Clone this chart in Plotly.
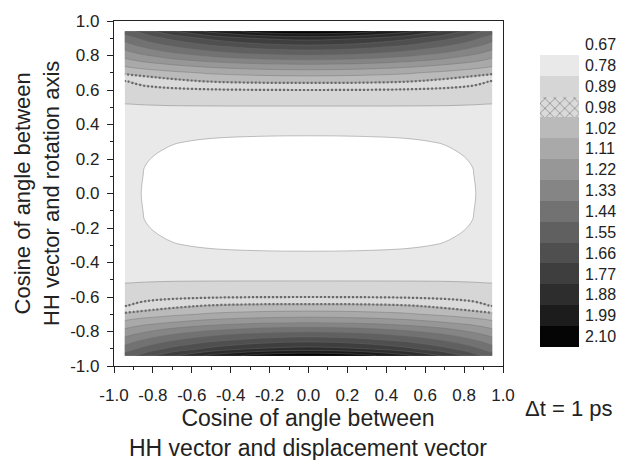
import numpy as np
import plotly.graph_objects as go

# ---------------- data ----------------
x_vals = [-0.945, -0.9, -0.85, -0.8, -0.7, -0.5, -0.25, 0.0, 0.25, 0.5, 0.7, 0.8, 0.85, 0.9, 0.945]
y_vals = [-0.94, -0.9, -0.85, -0.8, -0.75, -0.7, -0.65, -0.6, -0.5, -0.4, -0.3, -0.15, 0.0,
          0.15, 0.3, 0.4, 0.5, 0.6, 0.65, 0.7, 0.75, 0.8, 0.85, 0.9, 0.94]

z_rows = [
    [1.60, 1.65, 1.70, 1.76, 1.86, 2.02, 2.15, 2.20, 2.15, 2.02, 1.86, 1.76, 1.70, 1.65, 1.60],
    [1.486, 1.53, 1.575, 1.62, 1.69, 1.80, 1.89, 1.92, 1.89, 1.80, 1.69, 1.62, 1.575, 1.53, 1.486],
    [1.371, 1.41, 1.445, 1.48, 1.54, 1.63, 1.70, 1.73, 1.70, 1.63, 1.54, 1.48, 1.445, 1.41, 1.371],
    [1.257, 1.285, 1.315, 1.34, 1.39, 1.46, 1.52, 1.54, 1.52, 1.46, 1.39, 1.34, 1.315, 1.285, 1.257],
    [1.144, 1.165, 1.185, 1.20, 1.23, 1.28, 1.32, 1.335, 1.32, 1.28, 1.23, 1.20, 1.185, 1.165, 1.144],
    [1.038, 1.05, 1.06, 1.07, 1.09, 1.125, 1.15, 1.16, 1.15, 1.125, 1.09, 1.07, 1.06, 1.05, 1.038],
    [0.975, 0.984, 0.992, 0.998, 1.008, 1.025, 1.037, 1.04, 1.037, 1.025, 1.008, 0.998, 0.992, 0.984, 0.975],
    [0.94, 0.945, 0.95, 0.955, 0.962, 0.972, 0.978, 0.98, 0.978, 0.972, 0.962, 0.955, 0.95, 0.945, 0.94],
    [0.875, 0.876, 0.878, 0.879, 0.881, 0.882, 0.882, 0.882, 0.882, 0.882, 0.881, 0.879, 0.878, 0.876, 0.875],
    [0.85, 0.846, 0.84, 0.835, 0.83, 0.822, 0.819, 0.818, 0.819, 0.822, 0.83, 0.835, 0.84, 0.846, 0.85],
    [0.84, 0.825, 0.81, 0.80, 0.785, 0.77, 0.762, 0.76, 0.762, 0.77, 0.785, 0.80, 0.81, 0.825, 0.84],
    [0.825, 0.805, 0.782, 0.765, 0.745, 0.73, 0.72, 0.72, 0.72, 0.73, 0.745, 0.765, 0.782, 0.805, 0.825],
    [0.82, 0.80, 0.775, 0.755, 0.73, 0.71, 0.70, 0.70, 0.70, 0.71, 0.73, 0.755, 0.775, 0.80, 0.82],
    [0.825, 0.805, 0.782, 0.765, 0.745, 0.73, 0.72, 0.72, 0.72, 0.73, 0.745, 0.765, 0.782, 0.805, 0.825],
    [0.84, 0.825, 0.81, 0.80, 0.785, 0.77, 0.762, 0.76, 0.762, 0.77, 0.785, 0.80, 0.81, 0.825, 0.84],
    [0.85, 0.846, 0.84, 0.835, 0.83, 0.822, 0.819, 0.818, 0.819, 0.822, 0.83, 0.835, 0.84, 0.846, 0.85],
    [0.875, 0.876, 0.878, 0.879, 0.881, 0.882, 0.882, 0.882, 0.882, 0.882, 0.881, 0.879, 0.878, 0.876, 0.875],
    [0.94, 0.945, 0.95, 0.955, 0.962, 0.972, 0.978, 0.98, 0.978, 0.972, 0.962, 0.955, 0.95, 0.945, 0.94],
    [0.975, 0.984, 0.992, 0.998, 1.008, 1.025, 1.037, 1.04, 1.037, 1.025, 1.008, 0.998, 0.992, 0.984, 0.975],
    [1.038, 1.05, 1.06, 1.07, 1.09, 1.125, 1.15, 1.16, 1.15, 1.125, 1.09, 1.07, 1.06, 1.05, 1.038],
    [1.144, 1.165, 1.185, 1.20, 1.23, 1.28, 1.32, 1.335, 1.32, 1.28, 1.23, 1.20, 1.185, 1.165, 1.144],
    [1.257, 1.285, 1.315, 1.34, 1.39, 1.46, 1.52, 1.54, 1.52, 1.46, 1.39, 1.34, 1.315, 1.285, 1.257],
    [1.371, 1.41, 1.445, 1.48, 1.54, 1.63, 1.70, 1.73, 1.70, 1.63, 1.54, 1.48, 1.445, 1.41, 1.371],
    [1.486, 1.53, 1.575, 1.62, 1.69, 1.80, 1.89, 1.92, 1.89, 1.80, 1.69, 1.62, 1.575, 1.53, 1.486],
    [1.60, 1.65, 1.70, 1.76, 1.86, 2.02, 2.15, 2.20, 2.15, 2.02, 1.86, 1.76, 1.70, 1.65, 1.60],
]

# contour level boundaries (bands), colour-bar labels, band colours
level_bounds = [0.78, 0.89, 0.98, 1.02, 1.11, 1.22, 1.33, 1.44, 1.55, 1.66, 1.77, 1.88, 1.99, 2.10]
bar_labels = ["0.67", "0.78", "0.89", "0.98", "1.02", "1.11", "1.22", "1.33",
              "1.44", "1.55", "1.66", "1.77", "1.88", "1.99", "2.10"]
band_colors = ["#ffffff", "#e9e9e9", "#d6d6d6", "#dadada", "#bababa", "#a9a9a9", "#979797",
               "#858585", "#727272", "#606060", "#4f4f4f", "#3e3e3e", "#2d2d2d", "#1c1c1c", "#050505"]
hatched_band = 3  # index in band_colors drawn with cross hatch

axis_tickvals = [-1.0, -0.8, -0.6, -0.4, -0.2, 0.0, 0.2, 0.4, 0.6, 0.8, 1.0]
axis_ticktext = ["-1.0", "-0.8", "-0.6", "-0.4", "-0.2", "0.0", "0.2", "0.4", "0.6", "0.8", "1.0"]

x_title = "Cosine of angle between<br>HH vector and displacement vector"
y_title = "Cosine of angle between<br>HH vector and rotation axis"
note_text = "\u0394t = 1 ps"

# ---------------- build ----------------
FONT = "Liberation Sans, Arial, sans-serif"
bounds = np.array(level_bounds)
idx = np.arange(1, len(bounds) + 1, dtype=float)
ext_b = np.concatenate([[bounds[0] - 1.0], bounds, [bounds[-1] + 1.0]])
ext_i = np.concatenate([[1 - 1.0 / 0.11], idx, [idx[-1] + 1.0 / 0.11]])
z_idx = np.interp(np.array(z_rows), ext_b, ext_i)

n = len(band_colors)
cscale = [[k / (n - 1), c] for k, c in enumerate(band_colors)]

fig = go.Figure()
fig.add_trace(go.Contour(
    x=x_vals, y=y_vals, z=z_idx,
    contours=dict(start=1, end=len(bounds), size=1, coloring="fill", showlines=True),
    colorscale=cscale, showscale=False,
    line=dict(color="rgba(110,110,110,0.7)", width=0.6, smoothing=1),
    hoverinfo="skip",
))
# hatched band outline (cross-hatch impression)
fig.add_trace(go.Contour(
    x=x_vals, y=y_vals, z=z_idx,
    contours=dict(start=hatched_band, end=hatched_band + 1, size=1, coloring="none"),
    showscale=False,
    line=dict(color="#6a6a6a", width=2.2, dash="2px,2px", smoothing=1),
    hoverinfo="skip",
))

# colour bar as stacked bars (bottom = darkest)
for k in range(n - 1, 0, -1):
    is_hatch = (k == hatched_band)
    fig.add_trace(go.Bar(
        x=[0], y=[1], xaxis="x2", yaxis="y2", width=1,
        marker=dict(
            color=band_colors[k], line=dict(width=0),
            pattern=dict(shape="x" if is_hatch else "", fgcolor="#555555",
                         size=7, solidity=0.25, fillmode="overlay"),
        ),
        showlegend=False, hoverinfo="skip",
    ))

nb = n - 1
bar_tickvals = [nb + 0.5 - k for k in range(len(bar_labels))]

tick_font = dict(family=FONT, size=17, color="#222222")
axis_common = dict(
    range=[-1, 1], showgrid=False, zeroline=False,
    showline=True, linecolor="#222222", linewidth=1.2, mirror=True,
    ticks="outside", ticklen=6, tickwidth=1, tickcolor="#222222",
    tickvals=axis_tickvals, ticktext=axis_ticktext, tickfont=tick_font,
    minor=dict(ticks="outside", ticklen=3, tickcolor="#222222", tick0=-1, dtick=0.1),
    automargin=False,
)

W, H = 621, 460
L, R, T, B = 114, 0, 21, 94
pw = W - L - R
ph = H - T - B

def px_x(p):
    return (p - L) / pw

def px_y(p):
    return (H - B - p) / ph

fig.update_layout(
    width=W, height=H, autosize=False,
    margin=dict(l=L, r=R, t=T, b=B, pad=0),
    paper_bgcolor="white", plot_bgcolor="white",
    barmode="stack", bargap=0, showlegend=False,
    xaxis=dict(domain=[0, px_x(503)], ticklabelstandoff=7, **axis_common),
    yaxis=dict(domain=[0, 1], ticklabelstandoff=4, **axis_common),
    xaxis2=dict(domain=[px_x(540), px_x(579)], range=[-0.5, 0.5], visible=False,
                anchor="y2", fixedrange=True),
    yaxis2=dict(domain=[px_y(347), px_y(347 - 15 * 20.86)], range=[0, 15], anchor="x2",
                side="right", showgrid=False, zeroline=False, showline=False, ticks="",
                tickvals=bar_tickvals, ticktext=bar_labels, ticklabelstandoff=5,
                tickfont=dict(family=FONT, size=16, color="#222222"), automargin=False),
    annotations=[
        dict(text=x_title, xref="paper", yref="paper", x=px_x(308), y=px_y(433),
             xanchor="center", yanchor="middle", showarrow=False,
             font=dict(family=FONT, size=23, color="#222222")),
        dict(text=y_title, xref="paper", yref="paper", x=px_x(37), y=px_y(194),
             xanchor="center", yanchor="middle", showarrow=False, textangle=-90,
             font=dict(family=FONT, size=22, color="#222222")),
        dict(text=note_text, xref="paper", yref="paper", x=px_x(568), y=px_y(408),
             xanchor="center", yanchor="middle", showarrow=False,
             font=dict(family=FONT, size=22, color="#222222")),
    ],
)

fig.write_html("out.html")
